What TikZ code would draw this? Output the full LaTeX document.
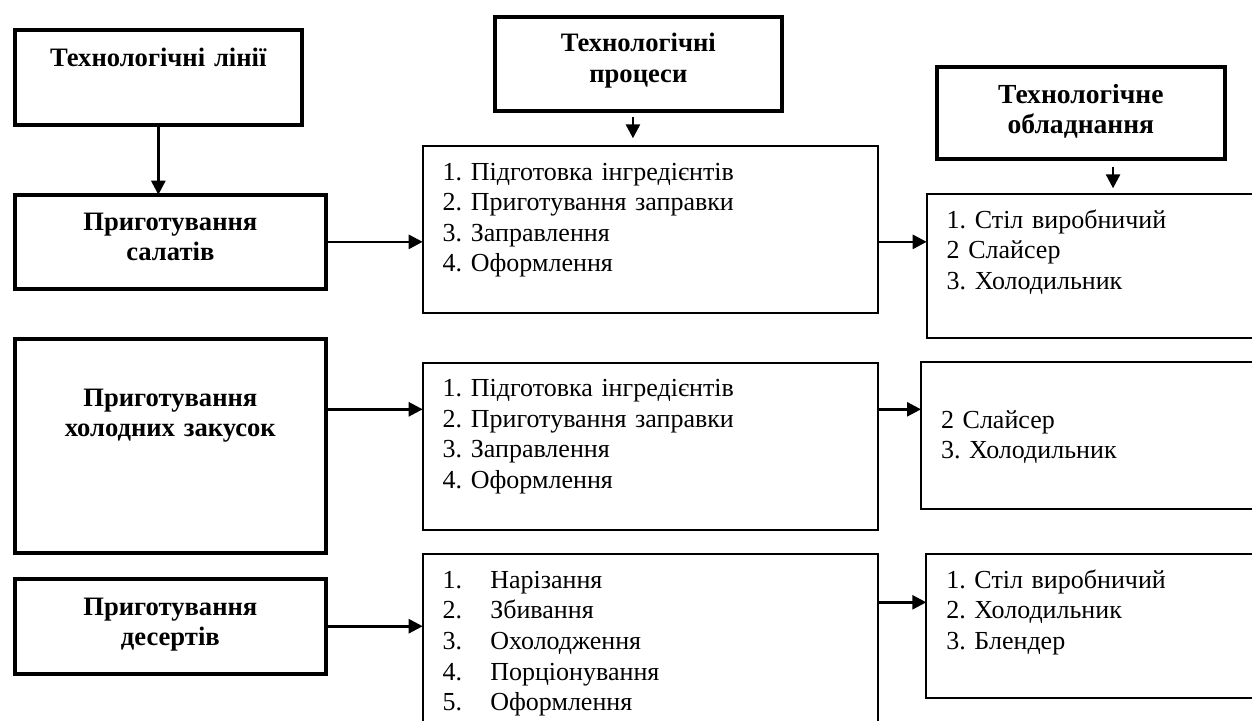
\documentclass[tikz,border=0pt]{standalone}
\usepackage{fontspec}
\setmainfont{Liberation Serif}
\usepackage{tikz}
\usetikzlibrary{arrows.meta}
\frenchspacing

\begin{document}
\begin{tikzpicture}[x=0.5pt,y=-0.5pt,
every node/.style={font=\fontsize{13}{15.3}\selectfont, inner ysep=0pt, outer sep=0pt, anchor=north west},
head/.style={draw, line width=2pt, inner xsep=4pt, align=center, font=\fontsize{13.3}{15.3}\selectfont\bfseries},
list/.style={draw, line width=1pt, inner xsep=10pt, align=left},
arr/.style={-{Triangle[length=7pt,width=7pt]}, line width=1.3pt}]
\useasboundingbox (0,0) rectangle (1252,720);
\clip (0,0) rectangle (1252,720);

   % headers of the three columns
   \node[head, text width=135.65pt, text height=18.1pt, text depth=29.1pt] (lines) at (14.7,30.3) {Технологічні лінії};
   \node[head, text width=135.65pt, text height=17.35pt, text depth=29.8pt] (proc) at (494.7,17) {Технологічні\\процеси};
   \node[head, text width=135.85pt, text height=18pt, text depth=27.85pt, font=\fontsize{13.8}{15.3}\selectfont\bfseries] (equip) at (937,67) {Технологічне\\обладнання};

   % lines
   \node[head, text width=147.65pt, text height=17.65pt, text depth=29.5pt] (salad) at (14.7,194.7) {Приготування\\салатів};
   \node[head, text width=147.65pt, text height=33.65pt, text depth=73.35pt] (snack) at (14.7,338.7) {Приготування\\холодних закусок};
   \node[head, text width=147.65pt, text height=18.15pt, text depth=29.35pt] (dessert) at (14.7,578.7) {Приготування\\десертів};

   % processes
   \node[list, text width=207.65pt, text height=17pt, text depth=66.35pt] (salad-p) at (422.7,146)
     {1. Підготовка інгредієнтів\\2. Приготування заправки\\3. Заправлення\\4. Оформлення};
   \node[list, text width=207.65pt, text height=16.85pt, text depth=66.65pt] (snack-p) at (422.7,363)
     {1. Підготовка інгредієнтів\\2. Приготування заправки\\3. Заправлення\\4. Оформлення};
   \node[list, text width=207.65pt, text height=17pt, text depth=75.85pt] (dessert-p) at (422.7,554.3)
     {\makebox[23.8pt][l]{1.}Нарізання\\\makebox[23.8pt][l]{2.}Збивання\\\makebox[23.8pt][l]{3.}Охолодження\\
      \makebox[23.8pt][l]{4.}Порціонування\\\makebox[23.8pt][l]{5.}Оформлення};

   % equipment
   \node[list, text width=151.65pt, text height=17pt, text depth=54.7pt] (salad-e) at (926.7,194.3)
     {1. Стіл виробничий\\2 Слайсер\\3. Холодильник};
   \node[list, text width=154.5pt, text height=33pt, text depth=40.2pt] (snack-e) at (921,362.3)
     {2 Слайсер\\3. Холодильник};
   \node[list, text width=151.65pt, text height=17.3pt, text depth=54.7pt] (dessert-e) at (926.3,553.7)
     {1. Стіл виробничий\\2. Холодильник\\3. Блендер};

   % arrows
   \draw[arr] (lines.south) -- (lines.south |- salad.north);
   \draw[arr, shorten <=2.85pt, shorten >=3.85pt] ([xshift=-2.7pt]proc.south) -- ([xshift=-2.7pt]proc.south |- salad-p.north);
   \draw[arr, shorten <=4pt, shorten >=3pt] ([xshift=16.1pt]equip.south) -- ([xshift=16.1pt]equip.south |- salad-e.north);

   \draw[arr] (salad.east) -- (salad.east -| salad-p.west);
   \draw[arr] (salad.east -| salad-p.east) -- (salad.east -| salad-e.west);

   \coordinate (row2) at ([yshift=18.2pt]snack.east);
   \draw[arr] (row2) -- (row2 -| snack-p.west);
   \draw[arr] (row2 -| snack-p.east) -- (row2 -| snack-e.west);

   \coordinate (row3) at ([yshift=11.7pt]dessert-e.west);
   \draw[arr] (dessert.east) -- (dessert.east -| dessert-p.west);
   \draw[arr] (row3 -| dessert-p.east) -- (row3);

\end{tikzpicture}
\end{document}
